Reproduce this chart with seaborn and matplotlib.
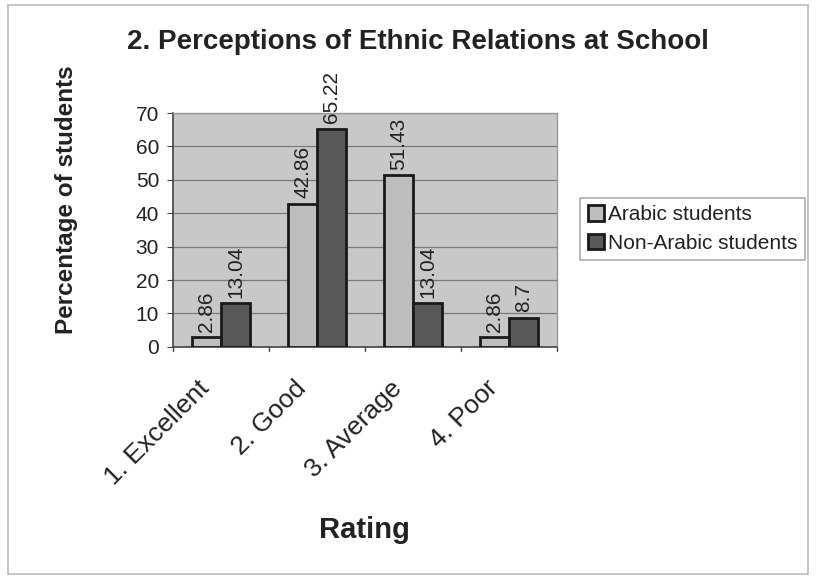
import matplotlib
matplotlib.use("Agg")
import matplotlib.pyplot as plt
import matplotlib.transforms as mtransforms
import seaborn as sns
import pandas as pd

ratings = ["1. Excellent", "2. Good", "3. Average", "4. Poor"]
arabic = [2.86, 42.86, 51.43, 2.86]
non_arabic = [13.04, 65.22, 13.04, 8.7]
groups = ["Arabic students", "Non-Arabic students"]
y_ticks = [0, 10, 20, 30, 40, 50, 60, 70]

df = pd.DataFrame({
    "Rating": ratings * 2,
    "Percent": arabic + non_arabic,
    "Group": [groups[0]] * len(ratings) + [groups[1]] * len(ratings),
})

sns.set_style("white")
plt.rcParams["font.family"] = ["Liberation Sans", "DejaVu Sans"]

fig = plt.figure(figsize=(8.16, 5.77), dpi=100)
ax = fig.add_axes([0.212, 0.399, 0.471, 0.405])
ax.set_facecolor("#c8c8c8")

palette = {groups[0]: "#bebebe", groups[1]: "#595959"}
sns.barplot(data=df, x="Rating", y="Percent", hue="Group", palette=palette,
            width=0.6, edgecolor="#1a1a1a", linewidth=2, ax=ax,
            saturation=1, zorder=3)

for cont in ax.containers:
    ax.bar_label(cont, labels=[f"{v:g}" for v in cont.datavalues],
                 rotation=90, padding=4, fontsize=15, color="#222222")

ax.set_ylim(0, 70)
ax.set_xlim(-0.5, 3.5)
ax.set_yticks(y_ticks)
ax.yaxis.grid(True, color="#7a7a7a", linewidth=0.9, zorder=0)
ax.set_axisbelow(True)
ax.tick_params(axis="y", labelsize=15, length=4, color="#444444",
               labelcolor="#222222", direction="out", left=True, pad=6)
ax.tick_params(axis="x", labelsize=19, length=0, labelcolor="#222222", pad=27)
ax.set_xticks(range(len(ratings)))
ax.set_xticklabels(ratings, rotation=45, ha="right", va="center",
                   rotation_mode="anchor")
# nudge the slanted category labels slightly left of the group centres
shift = mtransforms.ScaledTranslation(-0.15, 0, fig.dpi_scale_trans)
for lbl in ax.get_xticklabels():
    lbl.set_transform(lbl.get_transform() + shift)
for xb in [-0.5, 0.5, 1.5, 2.5, 3.5]:
    ax.plot([xb, xb], [0, -1.4], color="#444444", lw=1, clip_on=False)

for side in ["top", "right"]:
    ax.spines[side].set_color("#999999")
    ax.spines[side].set_linewidth(1)
for side in ["left", "bottom"]:
    ax.spines[side].set_color("#444444")
    ax.spines[side].set_linewidth(1.2)

ax.set_xlabel("")
ax.set_ylabel("Percentage of students", fontsize=17.5, fontweight="bold",
              color="#222222")
ax.yaxis.label.set_va("center")
ax.yaxis.set_label_coords(-0.277, 0.63)

fig.text(0.447, 0.0815, "Rating", ha="center", va="center", fontsize=21,
         fontweight="bold", color="#222222")
fig.text(0.512, 0.927, "2. Perceptions of Ethnic Relations at School",
         ha="center", va="center", fontsize=20, fontweight="bold",
         color="#222222")

leg = ax.legend(loc="center left", bbox_to_anchor=(1.06, 0.504), frameon=True,
                fontsize=15, handlelength=0.77, handleheight=0.77,
                handletextpad=0.2, borderpad=0.35, labelspacing=0.45,
                borderaxespad=0, fancybox=False, edgecolor="#999999")
leg.get_frame().set_linewidth(1.2)
for t in leg.get_texts():
    t.set_color("#222222")

fig.patches.append(plt.Rectangle((0.01, 0.006), 0.98, 0.985,
                                 transform=fig.transFigure, fill=False,
                                 edgecolor="#bbbbbb", linewidth=1.2))

fig.savefig("out.png", dpi=100, facecolor="white")
